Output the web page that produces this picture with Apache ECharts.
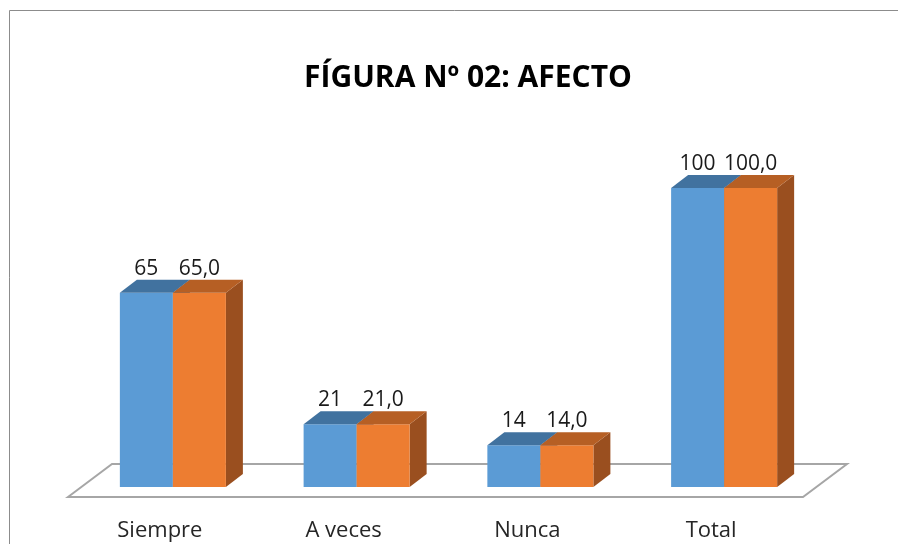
<!DOCTYPE html>
<html>
<head>
<meta charset="utf-8">
<script src="https://cdn.jsdelivr.net/npm/echarts@6/dist/echarts.min.js"></script>
<style>
  html, body { margin: 0; padding: 0; background: #fff; }
  #chart { width: 898px; height: 544px; }
</style>
</head>
<body>
<div id="chart"></div>
<script>
// datos
var categorias = ['Siempre', 'A veces', 'Nunca', 'Total'];
var frecuencia = [65, 21, 14, 100];
var porcentaje = [65.0, 21.0, 14.0, 100.0];

// profundidad del efecto 3D
var DX = 17, DY = -13;

function toPairs(arr) {
    return arr.map(function (v, i) { return [i, v]; });
}

function barRender(side, front, topC, sideC, fmt) {
    return function (params, api) {
        var i = api.value(0), v = api.value(1);
        var base = api.coord([i, 0]);
        var top = api.coord([i, v]);
        var band = api.size([1, 0])[0];
        var w = band * 0.2885;
        var x0 = side < 0 ? base[0] - w : base[0];
        var x1 = x0 + w;
        var yb = base[1], yt = top[1];
        var children = [
            {
                type: 'polygon',
                shape: { points: [[x1, yt], [x1 + DX, yt + DY], [x1 + DX, yb + DY], [x1, yb]] },
                style: { fill: sideC }
            },
            {
                type: 'rect',
                shape: { x: x0, y: yt, width: w, height: yb - yt },
                style: { fill: front }
            },
            {
                type: 'polygon',
                shape: { points: [[x0, yt], [x0 + DX, yt + DY], [x1 + DX, yt + DY], [x1, yt]] },
                style: { fill: topC }
            },
            {
                type: 'text',
                style: {
                    x: (x0 + x1) / 2, y: yt - 24,
                    text: fmt(v),
                    align: 'center', verticalAlign: 'middle',
                    fontFamily: 'Open Sans', fontSize: 21, fill: '#1a1a1a'
                }
            }
        ];
        return { type: 'group', children: children };
    };
}

function floorRender(params, api) {
    var cs = params.coordSys;
    var gx = cs.x, gr = cs.x + cs.width, zy = cs.y + cs.height;
    return {
        type: 'polygon',
        shape: { points: [[gx - 13, zy + 10], [gx + 31, zy - 23], [gr + 31, zy - 23], [gr - 13, zy + 10]] },
        style: { fill: '#fff', stroke: '#a6a6a6', lineWidth: 2 }
    };
}

var chart = echarts.init(document.getElementById('chart'));
chart.setOption({
    animation: false,
    backgroundColor: '#fff',
    title: {
        text: 'FÍGURA Nº 02: AFECTO',
        left: 463,
        top: 58,
        textAlign: 'center',
        textStyle: { fontFamily: 'Open Sans', fontWeight: 'bold', fontSize: 30, color: '#000' }
    },
    graphic: [{
        type: 'rect',
        shape: { x: 9.5, y: 10.5, width: 1000, height: 600 },
        style: { fill: 'none', stroke: '#8c8c8c', lineWidth: 1 },
        silent: true
    }],
    grid: { left: 81, right: 82, top: 188, bottom: 57 },
    xAxis: {
        type: 'category',
        data: categorias,
        axisLine: { show: false },
        axisTick: { show: false },
        axisLabel: {
            margin: 33,
            padding: [0, 26, 0, 0],
            fontFamily: 'Open Sans', fontSize: 22, color: '#262626'
        }
    },
    yAxis: { type: 'value', min: 0, max: 100, show: false },
    series: [
        {
            type: 'custom', name: 'piso', renderItem: floorRender,
            data: [[0, 0]], encode: { x: 0, y: 1 }, clip: false, z: 1
        },
        {
            type: 'custom', name: 'Frecuencia',
            renderItem: barRender(-1, '#5b9bd5', '#41729f', '#41729f', function (v) { return String(v); }),
            data: toPairs(frecuencia), encode: { x: 0, y: 1 }, clip: false, z: 2
        },
        {
            type: 'custom', name: 'Porcentaje',
            renderItem: barRender(1, '#ed7d31', '#b65f24', '#9a4f1f', function (v) { return v.toFixed(1).replace('.', ','); }),
            data: toPairs(porcentaje), encode: { x: 0, y: 1 }, clip: false, z: 3
        }
    ]
});
</script>
</body>
</html>
